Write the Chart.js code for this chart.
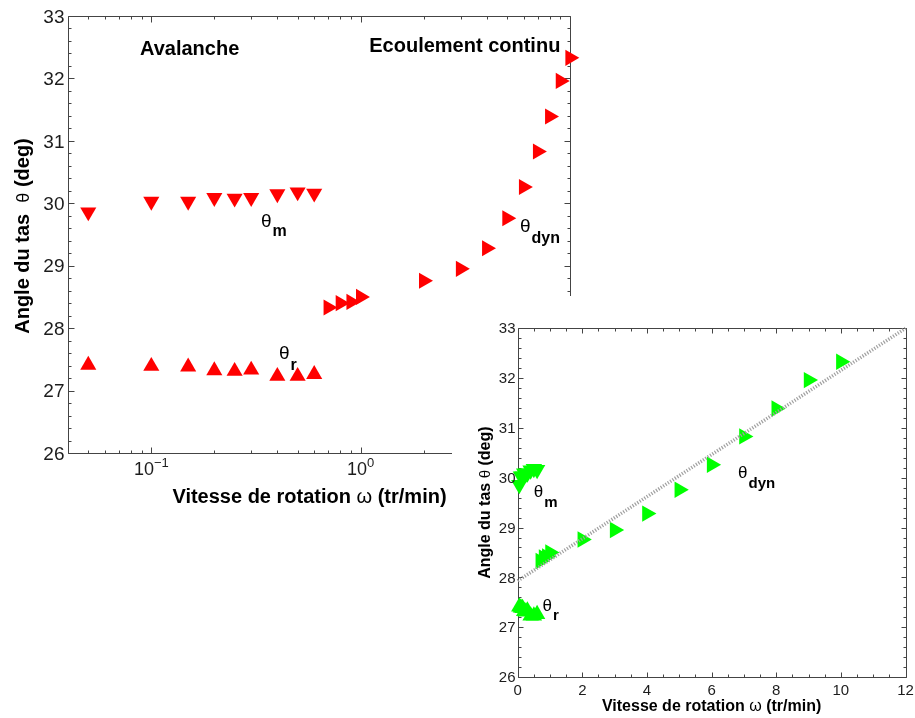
<!DOCTYPE html>
<html>
<head>
<meta charset="utf-8">
<script src="https://cdn.jsdelivr.net/npm/chart.js@4.4.1/dist/chart.umd.min.js"></script>
<style>
  html, body { margin: 0; padding: 0; background: #ffffff; }
  body { width: 915px; height: 718px; position: relative; overflow: hidden; }
  #mainWrap { position: absolute; left: 0; top: 0; width: 915px; height: 718px; }
  #insetWrap { position: absolute; left: 452px; top: 296px; width: 463px; height: 422px; background: #ffffff; }
  canvas { display: block; }
</style>
</head>
<body>
<div id="mainWrap"><canvas id="main" width="915" height="718"></canvas></div>
<div id="insetWrap"><canvas id="inset" width="463" height="422"></canvas></div>
<script>
// ---------------- data ----------------
const omegaAval = [0.05, 0.1, 0.15, 0.2, 0.25, 0.3, 0.4, 0.5, 0.6];
const thetaM    = [29.86, 30.03, 30.03, 30.09, 30.08, 30.09, 30.15, 30.18, 30.16];
const thetaR    = [27.41, 27.39, 27.38, 27.32, 27.31, 27.33, 27.23, 27.23, 27.26];
const omegaDyn  = [0.7, 0.8, 0.9, 1, 2, 3, 4, 5, 6, 7, 8, 9, 10];
const thetaDyn  = [28.33, 28.40, 28.42, 28.50, 28.76, 28.95, 29.28, 29.76, 30.26, 30.83, 31.39, 31.96, 32.33];
const fitOmega  = [0, 12];
const fitTheta  = [27.93, 33.0];

// tick values / labels
const mainYTicks = [26, 27, 28, 29, 30, 31, 32, 33];
const mainXTicks = [0.1, 1];
const mainXTickBase = ['10', '10'];
const mainXTickExp  = ['\u22121', '0'];
const insetXTicks = [0, 2, 4, 6, 8, 10, 12];
const insetYTicks = [26, 27, 28, 29, 30, 31, 32, 33];

// texts
const yTitleParts = ['Angle du tas  ', '\u03b8', ' (deg)'];
const yTitleInsetParts = ['Angle du tas ', '\u03b8', ' (deg)'];
const xTitleParts = ['Vitesse de rotation ', '\u03c9', ' (tr/min)'];
const regimeLabels = ['Avalanche', 'Ecoulement continu'];
const thetaSymbol = '\u03b8';
const seriesSubs = ['m', 'r', 'dyn'];

// ---------------- helpers ----------------
const FF = '"Liberation Sans", Arial, Helvetica, sans-serif';
const RED = '#ff0000', GREEN = '#00ff00', AXIS = '#444444', TXT = '#1c1c1c';

function drawRuns(ctx, runs, x, y, align) {
  let w = 0;
  runs.forEach(r => { ctx.font = r.f; r.w = ctx.measureText(r.t).width; w += r.w + (r.dx || 0); });
  let cx = align === 'center' ? x - w / 2 : x;
  ctx.textAlign = 'left';
  runs.forEach(r => {
    ctx.font = r.f;
    cx += (r.dx || 0);
    ctx.fillText(r.t, cx, y + (r.dy || 0));
    cx += r.w;
  });
}

function frame(ctx, a) {
  const L = Math.round(a.left) + 0.5, R = Math.round(a.right) + 0.5;
  const T = Math.round(a.top) + 0.5, B = Math.round(a.bottom) + 0.5;
  return { L, R, T, B };
}

function drawBoxAndTicks(chart, o) {
  const { ctx, chartArea } = chart;
  const x = chart.scales.x, y = chart.scales.y;
  const { L, R, T, B } = frame(ctx, chartArea);
  ctx.save();
  ctx.strokeStyle = AXIS;
  ctx.lineWidth = 1;
  ctx.beginPath();
  ctx.rect(L, T, R - L, B - T);
  o.xMajor.forEach(v => {
    const p = Math.round(x.getPixelForValue(v)) + 0.5;
    ctx.moveTo(p, B); ctx.lineTo(p, B - o.maj);
    ctx.moveTo(p, T); ctx.lineTo(p, T + o.maj);
  });
  o.xMinor.forEach(v => {
    const p = Math.round(x.getPixelForValue(v)) + 0.5;
    ctx.moveTo(p, B); ctx.lineTo(p, B - o.min);
    ctx.moveTo(p, T); ctx.lineTo(p, T + o.min);
  });
  o.yMajor.forEach(v => {
    const p = Math.round(y.getPixelForValue(v)) + 0.5;
    ctx.moveTo(L, p); ctx.lineTo(L + o.maj, p);
    ctx.moveTo(R, p); ctx.lineTo(R - o.maj, p);
  });
  o.yMinor.forEach(v => {
    const p = Math.round(y.getPixelForValue(v)) + 0.5;
    ctx.moveTo(L, p); ctx.lineTo(L + o.min, p);
    ctx.moveTo(R, p); ctx.lineTo(R - o.min, p);
  });
  ctx.stroke();
  ctx.restore();
}

function thetaLabel(chart, xv, yv, sub, thFont, subFont, dy) {
  const { ctx } = chart;
  const px = chart.scales.x.getPixelForValue(xv);
  const py = chart.scales.y.getPixelForValue(yv);
  ctx.save();
  ctx.fillStyle = '#000';
  ctx.textBaseline = 'alphabetic';
  drawRuns(ctx, [{ t: thetaSymbol, f: thFont }, { t: sub, f: subFont, dy: dy, dx: 1 }], px, py, 'left');
  ctx.restore();
}

// minor tick lists
const logMinor = [];
[0.01, 0.1, 1].forEach(d => { for (let m = 2; m <= 9; m++) { const v = m * d; if (v >= 0.04 && v <= 10) logMinor.push(v); } });
const yMinorList = [];
for (let v = 26; v < 33; v++) for (let k = 1; k <= 4; k++) yMinorList.push(+(v + 0.2 * k).toFixed(1));
const insetXMinor = [];
for (let v = 0; v < 12; v += 2) [0.5, 1, 1.5].forEach(k => insetXMinor.push(v + k));

// ---------------- main chart ----------------
const mainPlugin = {
  id: 'mainDecor',
  beforeDatasetsDraw(chart) {
    drawBoxAndTicks(chart, { xMajor: mainXTicks.concat([10]), xMinor: logMinor, yMajor: mainYTicks, yMinor: yMinorList, maj: 6, min: 3 });
  },
  afterDraw(chart) {
    const { ctx, chartArea } = chart;
    const x = chart.scales.x, y = chart.scales.y;
    const { L, B } = frame(ctx, chartArea);
    ctx.save();
    ctx.fillStyle = TXT;
    ctx.font = '19px ' + FF;
    ctx.textAlign = 'right';
    ctx.textBaseline = 'middle';
    mainYTicks.forEach(v => ctx.fillText(String(v), L - 4, y.getPixelForValue(v) + 1.5));
    ctx.textBaseline = 'alphabetic';
    mainXTicks.forEach((v, i) => {
      const px = x.getPixelForValue(v);
      ctx.font = '18px ' + FF;
      const w1 = ctx.measureText(mainXTickBase[i]).width;
      ctx.font = '13px ' + FF;
      const w2 = ctx.measureText(mainXTickExp[i]).width;
      const sx = px - (w1 + w2) / 2;
      ctx.font = '18px ' + FF;
      ctx.textAlign = 'left';
      ctx.fillText(mainXTickBase[i], sx, B + 21);
      ctx.font = '13px ' + FF;
      ctx.fillText(mainXTickExp[i], sx + w1, B + 13);
    });
    ctx.fillStyle = '#000';
    drawRuns(ctx, [
      { t: xTitleParts[0], f: 'bold 20px ' + FF },
      { t: xTitleParts[1], f: '20px ' + FF },
      { t: xTitleParts[2], f: 'bold 20px ' + FF }
    ], 309.5, 503, 'center');
    ctx.save();
    ctx.translate(28.5, 236);
    ctx.rotate(-Math.PI / 2);
    drawRuns(ctx, [
      { t: yTitleParts[0], f: 'bold 20px ' + FF },
      { t: yTitleParts[1], f: '18px ' + FF },
      { t: yTitleParts[2], f: 'bold 20px ' + FF }
    ], 0, 0, 'center');
    ctx.restore();
    ctx.font = 'bold 20px ' + FF;
    ctx.textAlign = 'left';
    ctx.fillText(regimeLabels[0], x.getPixelForValue(0.0883), y.getPixelForValue(32.375));
    ctx.fillText(regimeLabels[1], x.getPixelForValue(1.099), y.getPixelForValue(32.42));
    ctx.restore();
    thetaLabel(chart, 0.334, 29.62, seriesSubs[0], '19px ' + FF, 'bold 16px ' + FF, 9);
    thetaLabel(chart, 0.407, 27.50, seriesSubs[1], '19px ' + FF, 'bold 16px ' + FF, 11);
    thetaLabel(chart, 5.77, 29.54, seriesSubs[2], '19px ' + FF, 'bold 16px ' + FF, 11);
  }
};

const mkPts = (xs, ys) => xs.map((v, i) => ({ x: v, y: ys[i] }));

new Chart(document.getElementById('main'), {
  type: 'scatter',
  data: {
    datasets: [
      { label: 'theta_m', data: mkPts(omegaAval, thetaM), pointStyle: 'triangle', rotation: 180,
        pointRadius: 9.3, pointHoverRadius: 9.3, backgroundColor: RED, borderColor: RED, borderWidth: 0, clip: false },
      { label: 'theta_r', data: mkPts(omegaAval, thetaR), pointStyle: 'triangle', rotation: 0,
        pointRadius: 9.3, pointHoverRadius: 9.3, backgroundColor: RED, borderColor: RED, borderWidth: 0, clip: false },
      { label: 'theta_dyn', data: mkPts(omegaDyn, thetaDyn), pointStyle: 'triangle', rotation: 90,
        pointRadius: 9.3, pointHoverRadius: 9.3, backgroundColor: RED, borderColor: RED, borderWidth: 0, clip: false }
    ]
  },
  options: {
    responsive: false,
    devicePixelRatio: 1,
    animation: false,
    events: [],
    layout: { padding: { left: 68, top: 16, right: 345, bottom: 265 } },
    plugins: { legend: { display: false }, tooltip: { enabled: false } },
    scales: {
      x: { type: 'logarithmic', min: 0.04, max: 10, grid: { display: false }, border: { display: false },
           ticks: { display: false }, afterFit: s => { s.height = 0; } },
      y: { type: 'linear', min: 26, max: 33, grid: { display: false }, border: { display: false },
           ticks: { display: false }, afterFit: s => { s.width = 0; } }
    }
  },
  plugins: [mainPlugin]
});

// ---------------- inset chart ----------------
const insetPlugin = {
  id: 'insetDecor',
  beforeDatasetsDraw(chart) {
    drawBoxAndTicks(chart, { xMajor: insetXTicks, xMinor: insetXMinor, yMajor: insetYTicks, yMinor: yMinorList, maj: 5, min: 3 });
  },
  afterDraw(chart) {
    const { ctx, chartArea } = chart;
    const x = chart.scales.x, y = chart.scales.y;
    const { L, B } = frame(ctx, chartArea);
    ctx.save();
    ctx.fillStyle = TXT;
    ctx.font = '15px ' + FF;
    ctx.textAlign = 'right';
    ctx.textBaseline = 'middle';
    insetYTicks.forEach(v => ctx.fillText(String(v), L - 3, y.getPixelForValue(v) + 1));
    ctx.textAlign = 'center';
    insetXTicks.forEach(v => ctx.fillText(String(v), x.getPixelForValue(v), B + 13.5));
    ctx.fillStyle = '#000';
    ctx.textBaseline = 'alphabetic';
    drawRuns(ctx, [
      { t: xTitleParts[0], f: 'bold 16px ' + FF },
      { t: xTitleParts[1], f: '16px ' + FF },
      { t: xTitleParts[2], f: 'bold 16px ' + FF }
    ], (chartArea.left + chartArea.right) / 2, 414.5, 'center');
    ctx.save();
    ctx.translate(37.5, (chartArea.top + chartArea.bottom) / 2);
    ctx.rotate(-Math.PI / 2);
    drawRuns(ctx, [
      { t: yTitleInsetParts[0], f: 'bold 16px ' + FF },
      { t: yTitleInsetParts[1], f: '15px ' + FF },
      { t: yTitleInsetParts[2], f: 'bold 16px ' + FF }
    ], 0, 0, 'center');
    ctx.restore();
    ctx.restore();
    thetaLabel(chart, 0.50, 29.61, seriesSubs[0], '17px ' + FF, 'bold 15px ' + FF, 10);
    thetaLabel(chart, 0.77, 27.33, seriesSubs[1], '17px ' + FF, 'bold 15px ' + FF, 9.5);
    thetaLabel(chart, 6.82, 29.99, seriesSubs[2], '17px ' + FF, 'bold 15px ' + FF, 10);
  }
};

new Chart(document.getElementById('inset'), {
  type: 'scatter',
  data: {
    datasets: [
      { label: 'fit', data: mkPts(fitOmega, fitTheta), showLine: true, pointRadius: 0,
        borderColor: '#a0a0a0', borderWidth: 3.5, borderDash: [1.2, 1.6], borderCapStyle: 'butt', fill: false, clip: false },
      { label: 'theta_m', data: mkPts(omegaAval, thetaM), pointStyle: 'triangle', rotation: 180,
        pointRadius: 9.5, pointHoverRadius: 9.5, backgroundColor: GREEN, borderColor: GREEN, borderWidth: 0, clip: false },
      { label: 'theta_r', data: mkPts(omegaAval, thetaR), pointStyle: 'triangle', rotation: 0,
        pointRadius: 9.5, pointHoverRadius: 9.5, backgroundColor: GREEN, borderColor: GREEN, borderWidth: 0, clip: false },
      { label: 'theta_dyn', data: mkPts(omegaDyn, thetaDyn), pointStyle: 'triangle', rotation: 90,
        pointRadius: 9.5, pointHoverRadius: 9.5, backgroundColor: GREEN, borderColor: GREEN, borderWidth: 0, clip: false }
    ]
  },
  options: {
    responsive: false,
    devicePixelRatio: 1,
    animation: false,
    events: [],
    layout: { padding: { left: 65.7, top: 32.3, right: 9.3, bottom: 41 } },
    plugins: { legend: { display: false }, tooltip: { enabled: false } },
    scales: {
      x: { type: 'linear', min: 0, max: 12, grid: { display: false }, border: { display: false },
           ticks: { display: false }, afterFit: s => { s.height = 0; } },
      y: { type: 'linear', min: 26, max: 33, grid: { display: false }, border: { display: false },
           ticks: { display: false }, afterFit: s => { s.width = 0; } }
    }
  },
  plugins: [insetPlugin]
});
</script>
</body>
</html>
